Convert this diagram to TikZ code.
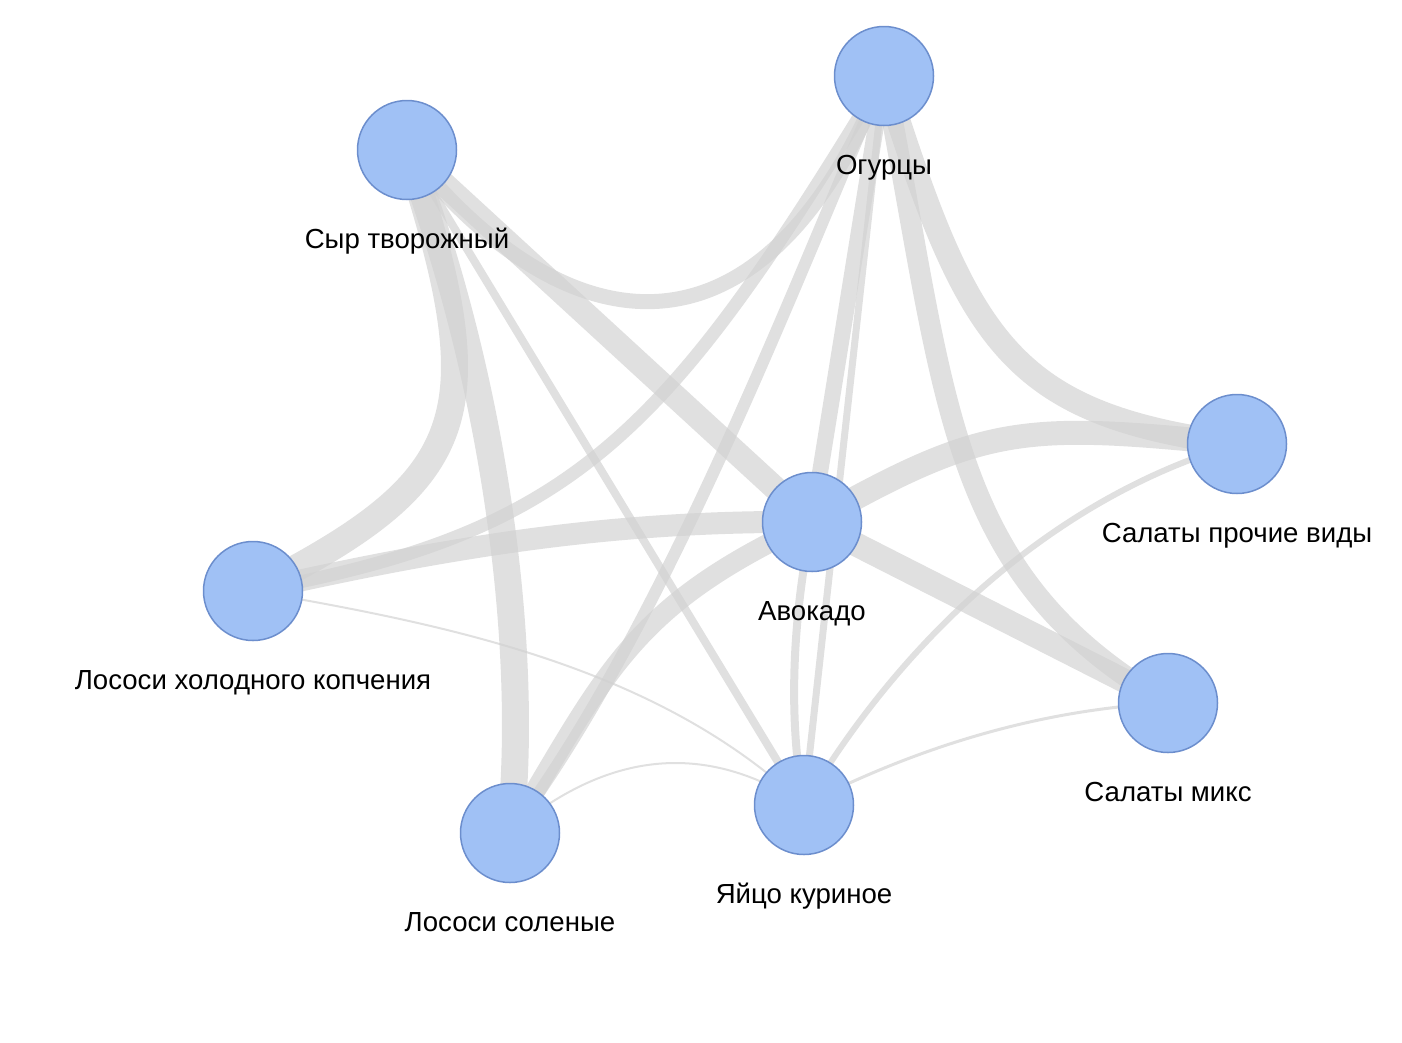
\documentclass[tikz,border=0pt]{standalone}
\usepackage{fontspec}
\setmainfont{Liberation Sans}
\definecolor{edgec}{RGB}{209,209,209}
\definecolor{nodefill}{RGB}{160,193,245}
\definecolor{nodedraw}{RGB}{108,142,205}
\pgfdeclarelayer{bg}
\pgfsetlayers{bg,main}
\begin{document}
\begin{tikzpicture}[x=1pt,y=-1pt,
  item/.style={circle, minimum size=99pt, inner sep=0pt, fill=nodefill, draw=nodedraw, line width=1.5pt},
  lbl/.style={font=\fontsize{27.6}{32}\selectfont, anchor=base, inner sep=0pt},
  edge/.style={draw=edgec, draw opacity=0.68}]
\useasboundingbox (0,0) rectangle (1402,1042);
% nodes
\node[item] (O)  at (884,76)   {};
\node[item] (S)  at (407,150)  {};
\node[item] (SP) at (1237,444) {};
\node[item] (A)  at (812,522)  {};
\node[item] (LH) at (253,591)  {};
\node[item] (SM) at (1168,703) {};
\node[item] (LS) at (510,833)  {};
\node[item] (Y)  at (804,805)  {};
% labels
\node[lbl] (tO)  at ([yshift=-98pt]O.center)  {Огурцы};
\node[lbl] (tS)  at ([yshift=-98pt]S.center)  {Сыр творожный};
\node[lbl] (tSP) at ([yshift=-98pt]SP.center) {Салаты прочие виды};
\node[lbl] (tA)  at ([yshift=-98pt]A.center)  {Авокадо};
\node[lbl] (tLH) at ([yshift=-98pt]LH.center) {Лососи холодного копчения};
\node[lbl] (tSM) at ([yshift=-98pt]SM.center) {Салаты микс};
\node[lbl] (tLS) at ([yshift=-98pt]LS.center) {Лососи соленые};
\node[lbl] (tY)  at ([yshift=-98pt]Y.center)  {Яйцо куриное};
% edges
\begin{pgfonlayer}{bg}
\draw[edge, line width=15] (S.center) .. controls (565,350) and (762,378) .. (O.center);
\draw[edge, line width=24] (S.center) -- (A.center);
\draw[edge, line width=27] (S.center) .. controls (495,420) and (470,480) .. (LH.center);
\draw[edge, line width=27] (S.center) .. controls (495,380) and (530,650) .. (LS.center);
\draw[edge, line width=8]  (S.center) -- (Y.center);
\draw[edge, line width=13] (O.center) .. controls (666,435) and (577,532) .. (LH.center);
\draw[edge, line width=12] (O.center) .. controls (786,306) and (660,633) .. (LS.center);
\draw[edge, line width=16] (O.center) -- (A.center);
\draw[edge, line width=7]  (O.center) -- (Y.center);
\draw[edge, line width=24] (O.center) .. controls (968,342) and (1009,414) .. (SP.center);
\draw[edge, line width=21] (O.center) .. controls (947,399) and (945,575) .. (SM.center);
\draw[edge, line width=24] (A.center) .. controls (984,425) and (1020,422) .. (SP.center);
\draw[edge, line width=22] (LH.center) .. controls (448,547) and (612,520) .. (A.center);
\draw[edge, line width=24] (A.center) -- (SM.center);
\draw[edge, line width=20] (A.center) .. controls (631,606) and (608,670) .. (LS.center);
\draw[edge, line width=8]  (A.center) .. controls (792,620) and (788,720) .. (Y.center);
\draw[edge, line width=2]  (LH.center) .. controls (450,625) and (658,667) .. (Y.center);
\draw[edge, line width=2]  (LS.center) .. controls (608,750) and (706,741) .. (Y.center);
\draw[edge, line width=6]  (Y.center) .. controls (895,650) and (1045,500) .. (SP.center);
\draw[edge, line width=3]  (Y.center) .. controls (925,743) and (1047,709) .. (SM.center);
\end{pgfonlayer}
\end{tikzpicture}
\end{document}
